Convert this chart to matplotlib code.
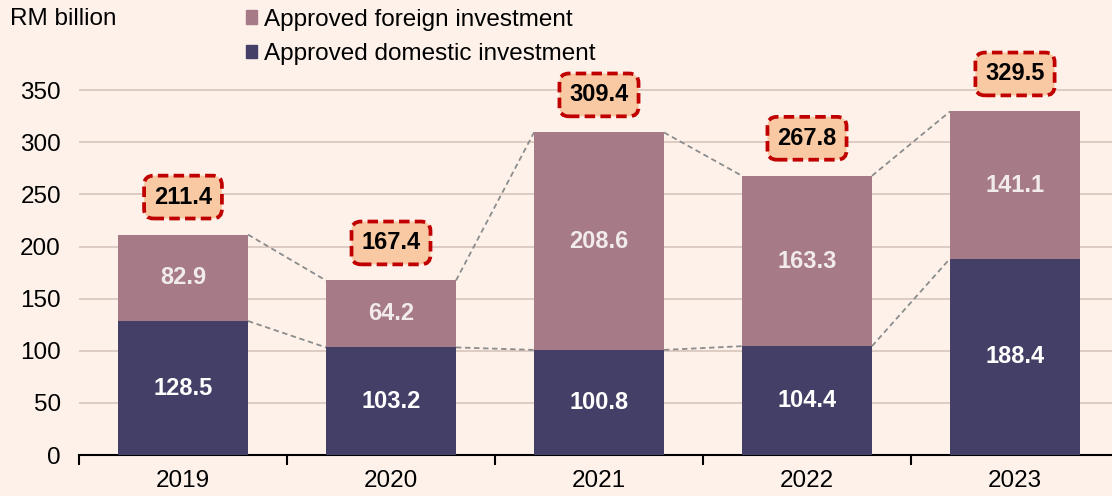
import matplotlib.pyplot as plt
from matplotlib.patches import Patch

plt.rcParams["font.family"] = ["Liberation Sans", "DejaVu Sans"]

years = ["2019", "2020", "2021", "2022", "2023"]
domestic = [128.5, 103.2, 100.8, 104.4, 188.4]
foreign = [82.9, 64.2, 208.6, 163.3, 141.1]
totals = [211.4, 167.4, 309.4, 267.8, 329.5]

BG = "#fdf1ea"
FOREIGN_C = "#a67b87"
DOMESTIC_C = "#433f66"
WIDTH = 0.625

fig = plt.figure(figsize=(11.12, 4.96), dpi=100, facecolor=BG)
ax = fig.add_axes([79 / 1112, 41 / 496, 1040 / 1112, 417 / 496])
ax.set_facecolor(BG)

x = list(range(len(years)))
ax.bar(x, domestic, WIDTH, color=DOMESTIC_C, zorder=3)
ax.bar(x, foreign, WIDTH, bottom=domestic, color=FOREIGN_C, zorder=3)

# dashed connectors between neighbouring bars
half = WIDTH / 2
for i in range(len(x) - 1):
    for level in (totals, domestic):
        ax.plot([i + half, i + 1 - half], [level[i], level[i + 1]],
                color="#8c8c8c", ls=(0, (3, 2)), lw=1.3, zorder=2)

for i in x:
    ax.text(i, domestic[i] / 2, f"{domestic[i]:.1f}", ha="center", va="center",
            color="white", fontsize=17, fontweight="bold", zorder=4)
    ax.text(i, domestic[i] + foreign[i] / 2, f"{foreign[i]:.1f}", ha="center",
            va="center", color="#f1ebea", fontsize=17, fontweight="bold", zorder=4)
    ax.text(i, totals[i] + 36, f"{totals[i]:.1f}", ha="center", va="center",
            color="black", fontsize=17, fontweight="bold", zorder=5, clip_on=False,
            bbox=dict(boxstyle="round,pad=0.42,rounding_size=0.4", fc="#f9c9a3",
                      ec="#c00000", lw=2.7, ls=(0, (2.8, 1.4))))

ax.set_xlim(-0.5, len(years) - 0.5)
ax.set_ylim(0, 400)
ax.set_yticks(range(0, 351, 50))
ax.yaxis.grid(True, color="#d9c9bf", lw=1.3, zorder=0)
ax.set_axisbelow(True)
ax.tick_params(axis="y", length=0, labelsize=17.5, pad=13)

ax.set_xticks(x)
ax.set_xticklabels(years)
ax.set_xticks([i - 0.5 for i in range(len(years) + 1)], minor=True)
ax.tick_params(axis="x", which="major", length=0, labelsize=17.5, pad=11)
ax.tick_params(axis="x", which="minor", length=7, width=1.5, direction="out")

for side in ("left", "right", "top"):
    ax.spines[side].set_visible(False)
ax.spines["bottom"].set_linewidth(1.5)

fig.text(10 / 1112, 1 - 19 / 496, "RM billion", fontsize=17.5, va="center")

handles = [Patch(color=FOREIGN_C, label="Approved foreign investment"),
           Patch(color=DOMESTIC_C, label="Approved domestic investment")]
fig.legend(handles=handles, loc="upper left", bbox_to_anchor=(231 / 1112, 1.012),
           frameon=False, fontsize=17.5, handlelength=0.45, handleheight=0.45,
           handletextpad=0.3, labelspacing=0.5, borderaxespad=0.2)

fig.savefig("out.png", dpi=100, facecolor=BG)
